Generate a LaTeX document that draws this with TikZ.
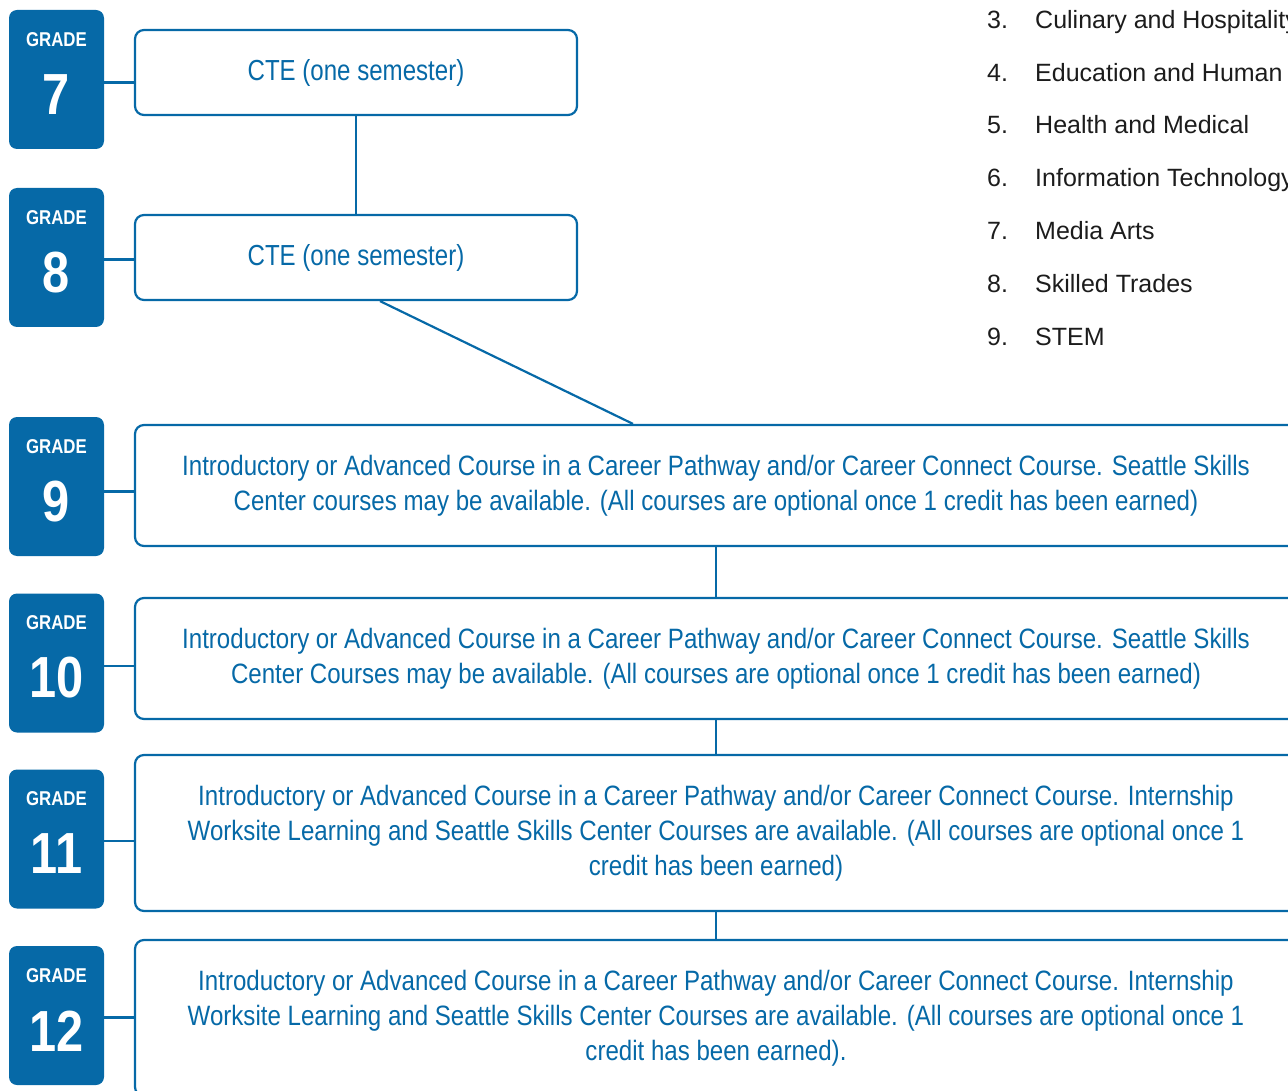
\documentclass[tikz,border=0pt]{standalone}
\usepackage{fontspec}
\usepackage{tikz}
\newfontfamily\narrowsans[FakeStretch=0.86]{Liberation Sans}
\newfontfamily\titlesans[FakeStretch=0.83]{Liberation Sans}
\newfontfamily\gradesans[FakeStretch=0.84]{Liberation Sans}
\newfontfamily\listsans{Liberation Sans}
\definecolor{gradeblue}{HTML}{0669A7}
\definecolor{listgray}{HTML}{1C1C1C}

\begin{document}
\begin{tikzpicture}[x=1pt,y=-1pt,
    gradebox/.style={fill=gradeblue, rounded corners=8pt, minimum width=95pt, minimum height=139pt, inner sep=0pt},
    gradeword/.style={text=white, inner sep=0pt, font=\gradesans\bfseries\fontsize{20}{22}\selectfont},
    gradenum/.style={text=white, inner sep=0pt, font=\gradesans\bfseries\fontsize{58}{60}\selectfont},
    course/.style={draw=gradeblue, line width=2.2pt, rounded corners=9pt, align=center, text=gradeblue, inner sep=0pt, font=\narrowsans\fontsize{28}{35}\selectfont},
    link/.style={draw=gradeblue, line width=2.2pt},
    item/.style={anchor=base west, text=listgray, inner sep=0pt, font=\listsans\fontsize{25}{30}\selectfont}]
            \useasboundingbox (0,0) rectangle (1288,1091);
            \clip (0,0) rectangle (1288,1091);

            % grade boxes
            \node[gradebox] (g7) at (56.5, 79.5) {};
            \node[gradebox] (g8) at (56.5, 257.5) {};
            \node[gradebox] (g9) at (56.5, 486.5) {};
            \node[gradebox] (g10) at (56.5, 663) {};
            \node[gradebox] (g11) at (56.5, 839) {};
            \node[gradebox] (g12) at (56.5, 1015.5) {};

            \node[gradeword] (w7) at (56.5, 40) {GRADE};
            \node[gradeword] (w8) at (56.5, 218) {GRADE};
            \node[gradeword] (w9) at (56.5, 447) {GRADE};
            \node[gradeword] (w10) at (56.5, 623) {GRADE};
            \node[gradeword] (w11) at (56.5, 799) {GRADE};
            \node[gradeword] (w12) at (56.5, 976) {GRADE};

            \node[gradenum] (n7) at (56.5, 95) {7};
            \node[gradenum] (n8) at (56.5, 273) {8};
            \node[gradenum] (n9) at (56.5, 502) {9};
            \node[gradenum] (n10) at (56.5, 678) {10};
            \node[gradenum] (n11) at (56.5, 854) {11};
            \node[gradenum] (n12) at (56.5, 1031) {12};

            % course boxes
            \node[course, minimum width=442pt, minimum height=85pt, font=\titlesans\fontsize{29}{35}\selectfont] (c7) at (356, 72.5) {CTE (one semester)};
            \node[course, minimum width=442pt, minimum height=85pt, font=\titlesans\fontsize{29}{35}\selectfont] (c8) at (356, 257.5) {CTE (one semester)};
            \node[course, minimum width=1162pt, minimum height=121pt] (c9) at (716, 485.5) {Introductory or Advanced Course in a Career Pathway and/or Career Connect Course. Seattle Skills\\Center courses may be available. (All courses are optional once 1 credit has been earned)};
            \node[course, minimum width=1162pt, minimum height=121pt] (c10) at (716, 658.5) {Introductory or Advanced Course in a Career Pathway and/or Career Connect Course. Seattle Skills\\Center Courses may be available. (All courses are optional once 1 credit has been earned)};
            \node[course, minimum width=1162pt, minimum height=156pt] (c11) at (716, 833) {Introductory or Advanced Course in a Career Pathway and/or Career Connect Course. Internship\\Worksite Learning and Seattle Skills Center Courses are available. (All courses are optional once 1\\credit has been earned)};
            \node[course, minimum width=1162pt, minimum height=156pt] (c12) at (716, 1018) {Introductory or Advanced Course in a Career Pathway and/or Career Connect Course. Internship\\Worksite Learning and Seattle Skills Center Courses are available. (All courses are optional once 1\\credit has been earned).};

            % pathway list
            \node[item] (p3) at (987, 29) {\makebox[48pt][l]{3.}Culinary and Hospitality};
            \node[item] (p4) at (987, 82) {\makebox[48pt][l]{4.}Education and Human Services};
            \node[item] (p5) at (987, 134) {\makebox[48pt][l]{5.}Health and Medical};
            \node[item] (p6) at (987, 187) {\makebox[48pt][l]{6.}Information Technology};
            \node[item] (p7) at (987, 240) {\makebox[48pt][l]{7.}Media Arts};
            \node[item] (p8) at (987, 293) {\makebox[48pt][l]{8.}Skilled Trades};
            \node[item] (p9) at (987, 345) {\makebox[48pt][l]{9.}STEM};

            \draw[link] ([yshift=-3pt]g7.east) -- ([yshift=-3pt]g7.east -| c7.west);
            \draw[link] ([yshift=-2pt]g8.east) -- ([yshift=-2pt]g8.east -| c8.west);
            \draw[link] ([yshift=-5pt]g9.east) -- ([yshift=-5pt]g9.east -| c9.west);
            \draw[link] ([yshift=-3pt]g10.east) -- ([yshift=-3pt]g10.east -| c10.west);
            \draw[link] ([yshift=-2pt]g11.east) -- ([yshift=-2pt]g11.east -| c11.west);
            \draw[link] ([yshift=-2pt]g12.east) -- ([yshift=-2pt]g12.east -| c12.west);

            \draw[link] (c7.south) -- (c8.north);
            \draw[link] ([xshift=24pt]c8.south) -- ([xshift=-83pt]c9.north);
            \draw[link] (c9.south) -- (c10.north);
            \draw[link] (c10.south) -- (c11.north);
            \draw[link] (c11.south) -- (c12.north);
        \end{tikzpicture}
\end{document}
